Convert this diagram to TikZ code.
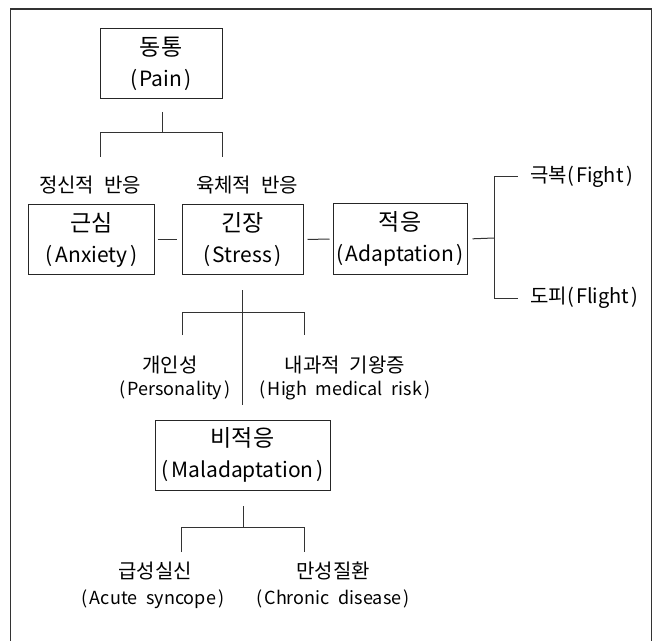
\documentclass[tikz,border=0pt]{standalone}
\usepackage{fontspec}
\setmainfont[WordSpace=2.2]{Noto Sans CJK KR}
\newcommand{\pp}[1]{(\hspace{0.12em}#1\hspace{0.12em})}
\newcommand{\kt}[1]{{\fontsize{23bp}{31bp}\selectfont #1}}
\tikzset{
  box/.style={draw=black!85, line width=1bp, minimum width=#1, minimum height=70bp, inner sep=0pt, align=center, font=\fontsize{21bp}{31bp}\selectfont},
  lbl/.style={inner sep=0pt, font=\fontsize{20bp}{23bp}\selectfont},
  sub/.style={inner sep=0pt, font=\fontsize{18bp}{22bp}\selectfont},
  ln/.style={draw=black!80, line width=1bp},
}
\begin{document}
\begin{tikzpicture}[x=1bp,y=-1bp]
\useasboundingbox (0,0) rectangle (656,641);
% frame
\draw[line width=1.3bp, black!80] (10.5,641) -- (10.5,9) -- (651.5,9) -- (651.5,641);

% boxes
\node[box=122bp] (pain) at (161,64) {\kt{동통}\\\pp{Pain}};
\node[box=125bp] (anx) at (91.5,239.5) {\kt{근심}\\\pp{Anxiety}};
\node[box=121bp] (str) at (242.5,239.5) {\kt{긴장}\\\pp{Stress}};
\node[box=134bp] (ada) at (400,239) {\kt{적응}\\\pp{Adaptation}};
\node[box=175bp] (mal) at (242.5,455) {\kt{비적응}\\\pp{Maladaptation}};

% labels
\node[lbl] (lpsy) at (90,185) {정신적 반응};
\node[lbl] (lphy) at (247,185) {육체적 반응};
\node[lbl, anchor=west] (fight) at (530,177) {극복\pp{Fight}};
\node[lbl, anchor=west] (flight) at (530,298) {도피\pp{Flight}};
\node[lbl] (pers) at (170,365) {개인성};
\node[sub] (perse) at (175,390) {\pp{Personality}};
\node[lbl] (risk) at (345,365) {내과적 기왕증};
\node[sub] (riske) at (345,390) {\pp{High medical risk}};
\node[lbl] (acute) at (155,571) {급성실신};
\node[sub] (acutee) at (153,599) {\pp{Acute syncope}};
\node[lbl] (chron) at (333,571) {만성질환};
\node[sub] (chrone) at (333,599) {\pp{Chronic disease}};

% coordinates
\coordinate (p1) at (162,112);
\coordinate (p2) at (162,133);
\coordinate (pl) at (100,133);
\coordinate (pr) at (222,133);
\coordinate (pld) at (100,157);
\coordinate (prd) at (222,157);

\coordinate (s1) at (242,290);
\coordinate (s2) at (242,405);
\coordinate (sl) at (182,312);
\coordinate (sr) at (304,312);
\coordinate (sld) at (182,335);
\coordinate (srd) at (304,335);

\coordinate (a1) at (494,238);
\coordinate (at) at (494,177);
\coordinate (ab) at (494,298);

\coordinate (m1) at (243,506);
\coordinate (m2) at (243,527);
\coordinate (ml) at (181,527);
\coordinate (mr) at (304,527);
\coordinate (mld) at (181,552);
\coordinate (mrd) at (304,552);

% connectors
\draw[ln] (p1) -- (p2);
\draw[ln] (pld) -- (pl) -- (pr) -- (prd);

\draw[ln, shorten <=3bp, shorten >=5bp] (anx.east) -- (str.west);
\draw[ln, shorten <=4bp, shorten >=3bp] (str.east) -- (ada.west);
\draw[ln, shorten <=5bp] (ada.east) -- (a1);
\draw[ln] (at) -- (ab);
\draw[ln, shorten >=12bp] (at) -- (fight.west);
\draw[ln, shorten >=12bp] (ab) -- (flight.west);

\draw[ln] (s1) -- (s2);
\draw[ln] (sld) -- (sl) -- (sr) -- (srd);

\draw[ln] (m1) -- (m2);
\draw[ln] (mld) -- (ml) -- (mr) -- (mrd);
\end{tikzpicture}
\end{document}
